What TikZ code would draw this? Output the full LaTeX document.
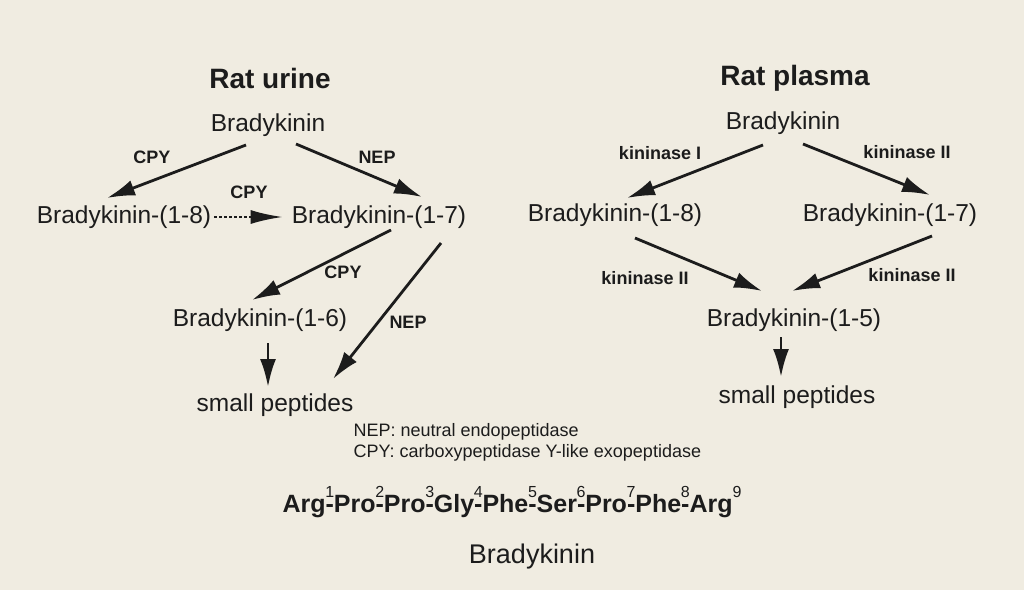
\documentclass[tikz,border=0pt]{standalone}
\usepackage{fontspec}
\setmainfont{Liberation Sans}
\usetikzlibrary{arrows.meta,calc}
\definecolor{paper}{RGB}{240,236,225}
\definecolor{ink}{RGB}{28,28,28}
\newcommand\sqhy[1]{\rlap{\raisebox{0.6em}{\mdseries\fontsize{16}{16}\selectfont\hspace{-0.02em}#1}}-}
\begin{document}
\begin{tikzpicture}[x=1pt,y=-1pt,
  lbl/.style={font=\fontsize{24.5}{28}\selectfont, text=ink, inner sep=1pt},
  ttl/.style={font=\bfseries\fontsize{28}{32}\selectfont, text=ink},
  enz/.style={font=\bfseries\fontsize{18}{21}\selectfont, text=ink},
  legend/.style={font=\fontsize{18}{21}\selectfont, text=ink, align=left, anchor=west},
  arr/.style={draw=ink, line width=2.8pt, -{Latex[length=28pt,width=16pt]}},
  dotarr/.style={draw=ink, line width=2.4pt, dash pattern=on 2.4pt off 2.6pt, -{Latex[length=32pt,width=14pt]}}]
\path[fill=paper] (0,0) rectangle (1024,590);

% titles
\node[ttl] (tU) at (270,78) {Rat urine};
\node[ttl] (tP) at (795,78) {Rat plasma};

% left: rat urine
\node[lbl] (bkL) at (268,125) {Bradykinin};
\node[lbl] (b8L) at (124,217) {Bradykinin-(1-8)};
\node[lbl] (b7L) at (379,217) {Bradykinin-(1-7)};
\node[lbl] (b6)  at (260,320) {Bradykinin-(1-6)};
\node[lbl] (spL) at (275,405) {small peptides};
\node[enz] (eL1) at (152,157) {CPY};
\node[enz] (eL2) at (377,157) {NEP};
\node[enz] (eL3) at (249,192) {CPY};
\node[enz] (eL4) at (343,272) {CPY};
\node[enz] (eL5) at (408,322) {NEP};

\draw[arr] ($(bkL)+(-22,20)$) -- ($(b8L)+(-17,-19)$);
\draw[arr] ($(bkL)+(28,19)$) -- ($(b7L)+(43,-20)$);
\draw[dotarr] ($(b8L.east)+(2,0)$) -- ($(b7L.west)+(-8,0)$);
\draw[arr] ($(b7L)+(12,13)$) -- ($(b6)+(-8,-20)$);
\draw[arr] ($(b7L)+(62,26)$) -- ($(spL)+(58,-26)$);
\draw[arr] ($(b6)+(8,23)$) -- ($(spL)+(-7,-18)$);

% right: rat plasma
\node[lbl] (bkR) at (783,123) {Bradykinin};
\node[lbl] (b8R) at (615,215) {Bradykinin-(1-8)};
\node[lbl] (b7R) at (890,215) {Bradykinin-(1-7)};
\node[lbl] (b5)  at (794,320) {Bradykinin-(1-5)};
\node[lbl] (spR) at (797,397) {small peptides};
\node[enz] (eR1) at (660,153) {kininase I};
\node[enz] (eR2) at (907,152) {kininase II};
\node[enz] (eR3) at (645,278) {kininase II};
\node[enz] (eR4) at (912,275) {kininase II};

\draw[arr] ($(bkR)+(-20,22)$) -- ($(b8R)+(12,-17)$);
\draw[arr] ($(bkR)+(20,21)$) -- ($(b7R)+(40,-20)$);
\draw[arr] ($(b8R)+(20,23)$) -- ($(b5)+(-32,-29)$);
\draw[arr] ($(b7R)+(42,21)$) -- ($(b5)+(-2,-29)$);
\draw[arr] ($(b5)+(-13,17)$) -- ($(spR)+(-16,-20)$);

% legend
\node[legend] (leg) at (350,442) {NEP: neutral endopeptidase\\CPY: carboxypeptidase Y-like exopeptidase};

% sequence
\node[font=\bfseries\fontsize{25}{30}\selectfont, text=ink] (seq) at (512,502)
  {Arg\sqhy{1}Pro\sqhy{2}Pro\sqhy{3}Gly\sqhy{4}Phe\sqhy{5}Ser\sqhy{6}Pro\sqhy{7}Phe\sqhy{8}Arg\raisebox{0.6em}{\mdseries\fontsize{16}{16}\selectfont 9}};
\node[font=\fontsize{27}{31}\selectfont, text=ink] (bkB) at (532,557) {Bradykinin};
\end{tikzpicture}
\end{document}
